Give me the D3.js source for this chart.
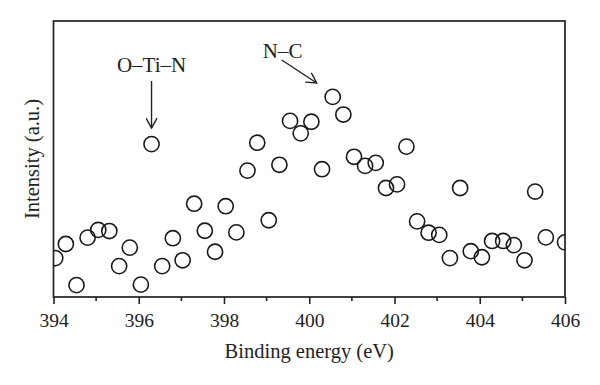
<!DOCTYPE html>
<html>
<head>
<meta charset="utf-8">
<script src="https://cdn.jsdelivr.net/npm/d3@7"></script>
<style>
	body { margin: 0; background: #fff; }
	text { font-family: "Liberation Serif", "DejaVu Serif", serif; fill: #222; }
</style>
</head>
<body>
<div id="chart"></div>
<script>
// binding energy (eV) and intensity (a.u.)
const energy = [394.04, 394.29, 394.54, 394.80, 395.05, 395.31, 395.54, 395.79, 396.05, 396.30,
	396.55, 396.80, 397.03, 397.30, 397.55, 397.79, 398.04, 398.29, 398.55, 398.78,
	399.05, 399.30, 399.55, 399.80, 400.05, 400.30, 400.55, 400.80, 401.05, 401.31,
	401.56, 401.80, 402.06, 402.28, 402.53, 402.80, 403.05, 403.30, 403.54, 403.79,
	404.05, 404.29, 404.55, 404.80, 405.05, 405.30, 405.55, 406.0];
const intensity = [14.1, 19.2, 4.3, 21.5, 24.3, 23.9, 11.2, 17.9, 4.5, 55.4,
	11.2, 21.3, 13.3, 33.8, 24.0, 16.4, 32.9, 23.4, 45.8, 55.9,
	27.8, 47.9, 63.8, 59.3, 63.5, 46.3, 72.5, 66.1, 50.8, 47.5,
	48.6, 39.5, 40.8, 54.5, 27.4, 23.3, 22.5, 14.1, 39.5, 16.6,
	14.4, 20.3, 20.3, 18.8, 13.3, 38.2, 21.6, 19.8];
const xTicks = [394, 396, 398, 400, 402, 404, 406];
const xMinor = [395, 397, 399, 401, 403, 405];
const notes = [
	{ label: "O\u2013Ti\u2013N", at: 396.30, val: 55.4 },
	{ label: "N\u2013C", at: 400.55, val: 72.5 }
];

const width = 600;
const height = 385;
const margin = { top: 21, right: 35, bottom: 88, left: 53.5 };
const iw = width - margin.left - margin.right;
const ih = height - margin.top - margin.bottom;

const svg = d3.select("#chart").append("svg")
	.attr("width", width)
	.attr("height", height);

const x = d3.scaleLinear().domain([394, 406]).range([0, iw]);
const y = d3.scaleLinear().domain([0, 100]).range([ih, 0]);

const g = svg.append("g").attr("transform", `translate(${margin.left},${margin.top})`);

svg.append("defs").append("clipPath").attr("id", "clip")
	.append("rect").attr("width", iw).attr("height", ih);

svg.append("defs").append("marker")
	.attr("id", "head")
	.attr("viewBox", "0 0 12 12")
	.attr("refX", 11).attr("refY", 6)
	.attr("markerWidth", 12).attr("markerHeight", 12)
	.attr("markerUnits", "userSpaceOnUse")
	.attr("orient", "auto")
	.append("path")
	.attr("d", "M1,0.5 L11,6 L1,11.5")
	.attr("fill", "none")
	.attr("stroke", "#222")
	.attr("stroke-width", 1.4);

// points
const pts = energy.map((e, i) => ({ e: e, v: intensity[i] }));
g.append("g").attr("clip-path", "url(#clip)")
	.selectAll("circle")
	.data(pts)
	.join("circle")
	.attr("cx", d => x(d.e))
	.attr("cy", d => y(d.v))
	.attr("r", 7.6)
	.attr("fill", "none")
	.attr("stroke", "#1a1a1a")
	.attr("stroke-width", 1.6);

// frame
g.append("rect")
	.attr("width", iw).attr("height", ih)
	.attr("fill", "none")
	.attr("stroke", "#222")
	.attr("stroke-width", 1.7);

// bottom axis
const xAxis = g.append("g").attr("transform", `translate(0,${ih})`)
	.call(d3.axisBottom(x).tickValues(xTicks).tickSize(7).tickPadding(9).tickFormat(d3.format("d")));
xAxis.select(".domain").remove();
xAxis.selectAll("line").attr("stroke", "#222").attr("stroke-width", 1.6);
xAxis.selectAll("text").style("font-size", "19.5px").attr("fill", "#222");

g.append("g").attr("transform", `translate(0,${ih})`)
	.selectAll("line")
	.data(xMinor)
	.join("line")
	.attr("x1", d => x(d)).attr("x2", d => x(d))
	.attr("y1", 0).attr("y2", 4)
	.attr("stroke", "#222")
	.attr("stroke-width", 1.6);

// axis titles
svg.append("text")
	.attr("x", margin.left + iw / 2)
	.attr("y", 358)
	.attr("text-anchor", "middle")
	.style("font-size", "20.5px")
	.text("Binding energy (eV)");

svg.append("text")
	.attr("transform", `translate(39,${margin.top + ih / 2}) rotate(-90)`)
	.attr("text-anchor", "middle")
	.style("font-size", "20.5px")
	.text("Intensity (a.u.)");

// annotations
const n0 = notes[0];
g.append("text")
	.attr("x", x(n0.at))
	.attr("y", 51)
	.attr("text-anchor", "middle")
	.style("font-size", "21px")
	.text(n0.label);
g.append("line")
	.attr("x1", x(n0.at)).attr("y1", 60)
	.attr("x2", x(n0.at)).attr("y2", y(n0.val) - 16)
	.attr("stroke", "#222").attr("stroke-width", 1.4)
	.attr("marker-end", "url(#head)");

const n1 = notes[1];
g.append("text")
	.attr("x", x(n1.at) - 50)
	.attr("y", 37)
	.attr("text-anchor", "middle")
	.style("font-size", "21px")
	.text(n1.label);
g.append("line")
	.attr("x1", x(n1.at) - 51).attr("y1", 39)
	.attr("x2", x(n1.at) - 16).attr("y2", 62)
	.attr("stroke", "#222").attr("stroke-width", 1.4)
	.attr("marker-end", "url(#head)");
</script>
</body>
</html>
